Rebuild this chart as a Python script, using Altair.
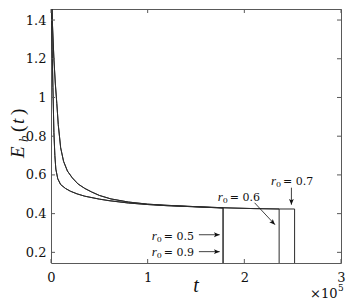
import altair as alt
import pandas as pd

# ---- data ----
fast_t = [0, 0.005, 0.012, 0.02, 0.03, 0.04, 0.05, 0.07, 0.1, 0.15, 0.2, 0.27, 0.35, 0.5, 0.6, 0.8, 1.0, 1.2, 1.5, 1.78]
fast_E = [3.0, 1.5, 1.25, 1.05, 0.82, 0.7, 0.63, 0.58, 0.55, 0.53, 0.516, 0.502, 0.49, 0.475, 0.467, 0.455, 0.447, 0.441, 0.435, 0.429]

slow_t = [0, 0.008, 0.015, 0.03, 0.045, 0.06, 0.075, 0.1, 0.13, 0.17, 0.22, 0.28, 0.35, 0.42, 0.5, 0.62, 0.8, 1.0, 1.2, 1.5, 1.8, 2.1, 2.36]
slow_E = [3.0, 1.55, 1.38, 1.2, 1.07, 0.97, 0.86, 0.74, 0.67, 0.62, 0.585, 0.553, 0.53, 0.512, 0.494, 0.476, 0.46, 0.449, 0.443, 0.436, 0.43, 0.426, 0.424]

r0_labels = ["0.5", "0.9", "0.6", "0.7"]
r0_curve = ["fast", "fast", "slow", "slow"]
end_t = [1.78, 1.78, 2.36, 2.52]
end_E = [0.429, 0.429, 0.424, 0.424]

x_ticks = [0, 1, 2, 3]
y_ticks = [0.2, 0.4, 0.6, 0.8, 1.0, 1.2, 1.4]

ann_t = [1.043, 1.043, 1.725, 2.277]
ann_E = [0.265, 0.183, 0.4665, 0.549]
ann_rest = ["= 0.5", "= 0.9", "= 0.6", "= 0.7"]

arrow_t1 = [1.53, 1.53, 2.106, 2.487]
arrow_E1 = [0.291, 0.2036, 0.456, 0.534]
arrow_t2 = [1.745, 1.745, 2.317, 2.487]
arrow_E2 = [0.291, 0.2036, 0.343, 0.446]
arrow_angle = [90, 90, 136, 180]

# ---- build tables ----
curves = {"fast": (fast_t, fast_E), "slow": (slow_t, slow_E)}
rows = []
for lab, cv, te, ee in zip(r0_labels, r0_curve, end_t, end_E):
    ts, es = curves[cv]
    i = 0
    for t, e in zip(ts, es):
        if t < te:
            rows.append({"r0": lab, "i": i, "t": t, "E": e})
            i += 1
    rows.append({"r0": lab, "i": i, "t": te, "E": ee})
    rows.append({"r0": lab, "i": i + 1, "t": te, "E": 0.0})
df = pd.DataFrame(rows)

ann = pd.DataFrame({"t": ann_t, "E": ann_E, "rest": ann_rest})
arr = pd.DataFrame({"t": arrow_t1, "E": arrow_E1, "t2": arrow_t2, "E2": arrow_E2, "ang": arrow_angle})
xt = pd.DataFrame({"t": x_ticks})
yt = pd.DataFrame({"E": y_ticks})

W, H = 290, 254
LINE = "#2b2b2b"
FRAME = "#595959"
xs = alt.Scale(domain=[0, 3], nice=False, zero=False)
ys = alt.Scale(domain=[0.145, 1.457], nice=False, zero=False)

lines = alt.Chart(df).mark_line(clip=True, color=LINE, strokeWidth=1).encode(
    x=alt.X("t:Q", scale=xs, title=None,
            axis=alt.Axis(values=x_ticks, format="~g", ticks=False, tickSize=0, domain=False, grid=False,
                          labelFont="DejaVu Serif", labelFontSize=13, labelColor="#111",
                          labelPadding=8, labelFlush=False, labelOverlap=False)),
    y=alt.Y("E:Q", scale=ys, title=None,
            axis=alt.Axis(values=y_ticks, format="~g", ticks=False, tickSize=0, domain=False, grid=False,
                          labelFont="DejaVu Serif", labelFontSize=13, labelColor="#111",
                          labelPadding=5, labelOverlap=False)),
    detail="r0:N",
    order="i:Q",
)

tick_b = alt.Chart(xt).mark_rule(color=FRAME, strokeWidth=1).encode(
    x=alt.X("t:Q", scale=xs, title=None), y=alt.value(H), y2=alt.value(H - 4))
tick_t = alt.Chart(xt).mark_rule(color=FRAME, strokeWidth=1).encode(
    x=alt.X("t:Q", scale=xs, title=None), y=alt.value(0), y2=alt.value(4))
tick_l = alt.Chart(yt).mark_rule(color=FRAME, strokeWidth=1).encode(
    y=alt.Y("E:Q", scale=ys, title=None), x=alt.value(0), x2=alt.value(4))
tick_r = alt.Chart(yt).mark_rule(color=FRAME, strokeWidth=1).encode(
    y=alt.Y("E:Q", scale=ys, title=None), x=alt.value(W), x2=alt.value(W - 4))

arrow_lines = alt.Chart(arr).mark_rule(color="#111", strokeWidth=0.8).encode(
    x=alt.X("t:Q", scale=xs, title=None), y=alt.Y("E:Q", scale=ys, title=None), x2="t2:Q", y2="E2:Q")
arrow_heads = alt.Chart(arr).mark_point(
    shape="M0,0 L0.42,1 L0,0.78 L-0.42,1 Z", filled=True, size=130, color="#111", opacity=1, strokeWidth=0
).encode(
    x=alt.X("t2:Q", scale=xs, title=None), y=alt.Y("E2:Q", scale=ys, title=None),
    angle=alt.Angle("ang:Q", scale=None))

txt_r = alt.Chart(ann).mark_text(text="r", font="Liberation Serif", fontStyle="italic", fontSize=13,
                                 align="left", baseline="alphabetic", color="#111").encode(
    x=alt.X("t:Q", scale=xs, title=None), y=alt.Y("E:Q", scale=ys, title=None))
txt_sub = alt.Chart(ann).mark_text(text="0", font="DejaVu Serif", fontSize=8, dx=5, dy=2.5,
                                   align="left", baseline="alphabetic", color="#111").encode(
    x=alt.X("t:Q", scale=xs, title=None), y=alt.Y("E:Q", scale=ys, title=None))
txt_rest = alt.Chart(ann).mark_text(font="DejaVu Serif", fontSize=11, dx=12,
                                    align="left", baseline="alphabetic", color="#111").encode(
    x=alt.X("t:Q", scale=xs, title=None), y=alt.Y("E:Q", scale=ys, title=None), text="rest:N")

# axis titles (composed math text)
base = alt.Chart(pd.DataFrame({"k": [0]}))
def tt(text, x, y, size, italic=False, font="Liberation Serif", angle=0, dx=0, dy=0, align="left"):
    kw = dict(text=text, font=font, fontSize=size, align=align, baseline="alphabetic", color="#111",
              dx=dx, dy=dy)
    if italic:
        kw["fontStyle"] = "italic"
    if angle:
        kw["angle"] = angle
    return base.mark_text(**kw).encode(x=alt.value(x), y=alt.value(y))

YX, YY = -27, 149
titles = [
    tt("t", 145, 283, 20, italic=True, align="center"),
    tt("\u00d710", 259, 289, 13, font="DejaVu Serif"),
    tt("5", 287, 282, 9, font="DejaVu Serif"),
    tt("E", YX, YY, 19, italic=True, angle=270),
    tt("b", YX, YY, 13, italic=True, angle=270, dx=16, dy=4),
    tt("(", YX, YY, 19, angle=270, dx=26),
    tt("t", YX, YY, 19, italic=True, angle=270, dx=34),
    tt(")", YX, YY, 19, angle=270, dx=43),
]

chart = alt.layer(
    lines, tick_b, tick_t, tick_l, tick_r, arrow_lines, arrow_heads, txt_r, txt_sub, txt_rest, *titles
).properties(
    width=W, height=H,
    autosize="none",
    padding={"left": 43, "top": 1, "right": 5, "bottom": 37},
    background="white",
).configure_view(stroke=FRAME, strokeWidth=1)

chart.save("out.html", embed_options={"renderer": "svg", "actions": False})
